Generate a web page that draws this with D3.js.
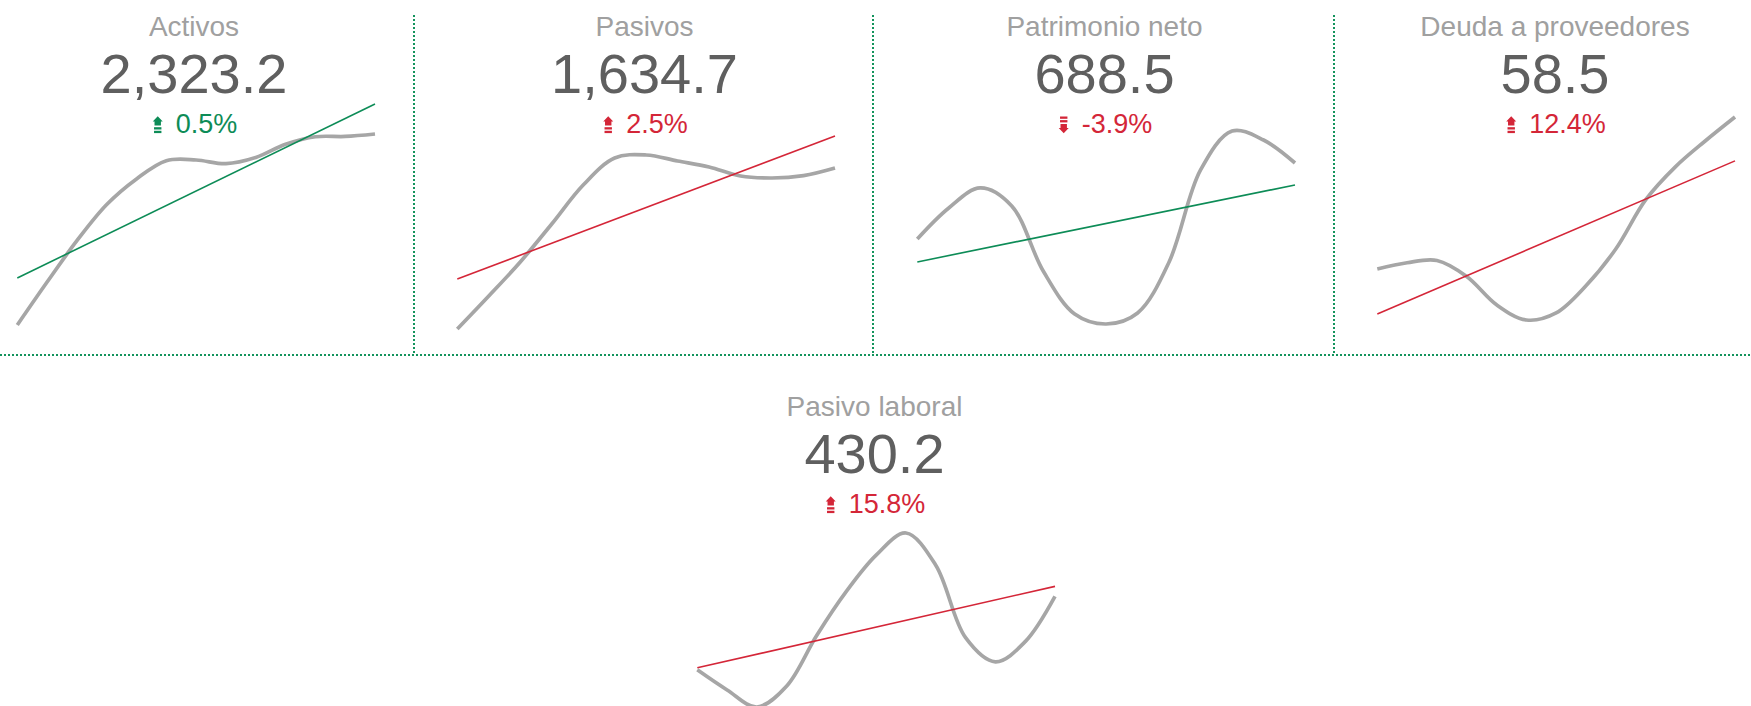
<!DOCTYPE html>
<html><head><meta charset="utf-8">
<script src="https://cdn.jsdelivr.net/npm/d3@7"></script>
<style>
html,body{margin:0;padding:0;background:#fff;}
svg{display:block;font-family:"Liberation Sans",Arial,Helvetica,sans-serif;}
</style></head><body>
<svg id="chart" width="1751" height="706"></svg>
<script>
// ---- data ----
const titles = ["Activos", "Pasivos", "Patrimonio neto", "Deuda a proveedores", "Pasivo laboral"];
const kpiValues = [2323.2, 1634.7, 688.5, 58.5, 430.2];
const changes = [0.5, 2.5, -3.9, 12.4, 15.8];
const higherIsBetter = [true, false, true, false, false];

const activos    = [1387.4, 1597.9, 1800.3, 1977.6, 2103.0, 2192.3, 2195.9, 2177.9, 2208.3, 2272.8, 2309.6, 2311.2, 2323.2];
const pasivos    = [791.1, 964.0, 1142.1, 1341.3, 1545.6, 1687.1, 1702.8, 1671.4, 1639.9, 1592.8, 1582.3, 1594.8, 1634.7];
const patrimonio = [596.3, 633.9, 658.2, 636.3, 557.4, 505.2, 493.1, 506.5, 568.4, 680.0, 727.3, 716.4, 688.5];
const deuda      = [17.6, 19.3, 19.9, 15.6, 8.0, 3.9, 5.8, 13.1, 23.0, 36.2, 45.1, 52.05, 58.5];
const laboral    = [335.0, 308.9, 286.8, 314.1, 379.3, 436.7, 483.7, 512.4, 470.6, 376.7, 345.4, 371.5, 430.2];

// trend line (start, end) values
const trendActivos    = [1617.7, 2470.2];
const trendPasivos    = [1053.1, 1802.4];
const trendPatrimonio = [568.4, 661.8];
const trendDeuda      = [5.5, 46.7];
const trendLaboral    = [337.6, 443.2];

const seriesList = [activos, pasivos, patrimonio, deuda, laboral];
const trendList = [trendActivos, trendPasivos, trendPatrimonio, trendDeuda, trendLaboral];

// ---- layout / style ----
const GREEN = "#0d8c57", RED = "#d42638", GRAY = "#a6a6a6";
const layout = [
  {cx: 194,   row: 0,   x: [17.3, 375],   y: [325, 134]},
  {cx: 644.5, row: 0,   x: [457.3, 835],  y: [329, 155]},
  {cx: 1104.5,row: 0,   x: [917.3, 1295], y: [324, 131]},
  {cx: 1555,  row: 0,   x: [1377.3, 1735],y: [320, 117]},
  {cx: 874.5, row: 380, x: [697.3, 1055], y: [707, 533]}
];

const loc = d3.formatLocale({decimal: ".", thousands: ",", grouping: [3], currency: ["$", ""], minus: "-"});
const fmtNum = loc.format(",.1f");
const fmtPct = loc.format(".1f");

const svg = d3.select("#chart");

// dividers
const divG = svg.append("g").attr("stroke", "#13935c").attr("stroke-width", 2).attr("stroke-dasharray", "2,2");
[414, 873, 1334].forEach(x => {
  divG.append("line").attr("x1", x).attr("x2", x).attr("y1", 15).attr("y2", 354);
});
divG.append("line").attr("x1", 0).attr("x2", 1751).attr("y1", 355).attr("y2", 355);

function iconPath(g, up, color) {
  const ig = g.append("g").attr("fill", color);
  const inner = ig.append("g");
  if (!up) inner.attr("transform", "translate(0,17) scale(1,-1)");
  inner.append("path").attr("d", "M5,0 L10,5.2 L8.2,5.2 L8.2,9.2 L1.8,9.2 L1.8,5.2 L0,5.2 Z");
  inner.append("rect").attr("x", 1.3).attr("y", 10.9).attr("width", 7.4).attr("height", 2.3);
  inner.append("rect").attr("x", 1.3).attr("y", 14.5).attr("width", 7.4).attr("height", 2.3);
  return ig;
}

titles.forEach((t, i) => {
  const L = layout[i];
  const g = svg.append("g");
  const data = seriesList[i];
  const trend = trendList[i];
  const n = data.length;

  const x = d3.scaleLinear().domain([0, n - 1]).range(L.x);
  const y = d3.scaleLinear().domain(d3.extent(data)).range(L.y);

  // sparkline
  g.append("path")
    .datum(data)
    .attr("fill", "none")
    .attr("stroke", GRAY)
    .attr("stroke-width", 3.7)
    .attr("d", d3.line().x((d, j) => x(j)).y(d => y(d)).curve(d3.curveCatmullRom.alpha(0.5)));

  // trend
  const trendUp = trend[1] > trend[0];
  const trendColor = (trendUp === higherIsBetter[i]) ? GREEN : RED;
  g.append("path")
    .datum([[0, trend[0]], [n - 1, trend[1]]])
    .attr("fill", "none")
    .attr("stroke", trendColor)
    .attr("stroke-width", 1.6)
    .attr("d", d3.line().x(d => x(d[0])).y(d => y(d[1])));

  // texts
  g.append("text")
    .attr("x", L.cx).attr("y", L.row + 36)
    .attr("text-anchor", "middle")
    .attr("font-size", 28)
    .attr("fill", "#a0a0a0")
    .text(t);

  g.append("text")
    .attr("x", L.cx).attr("y", L.row + 93.3)
    .attr("text-anchor", "middle")
    .attr("font-size", 56)
    .attr("fill", "#5f5f5f")
    .text(fmtNum(kpiValues[i]));

  const ch = changes[i];
  const chColor = ((ch > 0) === higherIsBetter[i]) ? GREEN : RED;
  const pg = g.append("g");
  const pt = pg.append("text")
    .attr("y", L.row + 133.3)
    .attr("font-size", 27)
    .attr("fill", chColor)
    .text(fmtPct(ch) + "%");
  const tw = pt.node().getComputedTextLength();
  const iconW = 10, gap = 13;
  const total = iconW + gap + tw;
  const start = L.cx + 1 - total / 2;
  pt.attr("x", start + iconW + gap);
  iconPath(pg, ch > 0, chColor).attr("transform", `translate(${start},${L.row + 133.3 - 17})`);
});
</script>
</body></html>
